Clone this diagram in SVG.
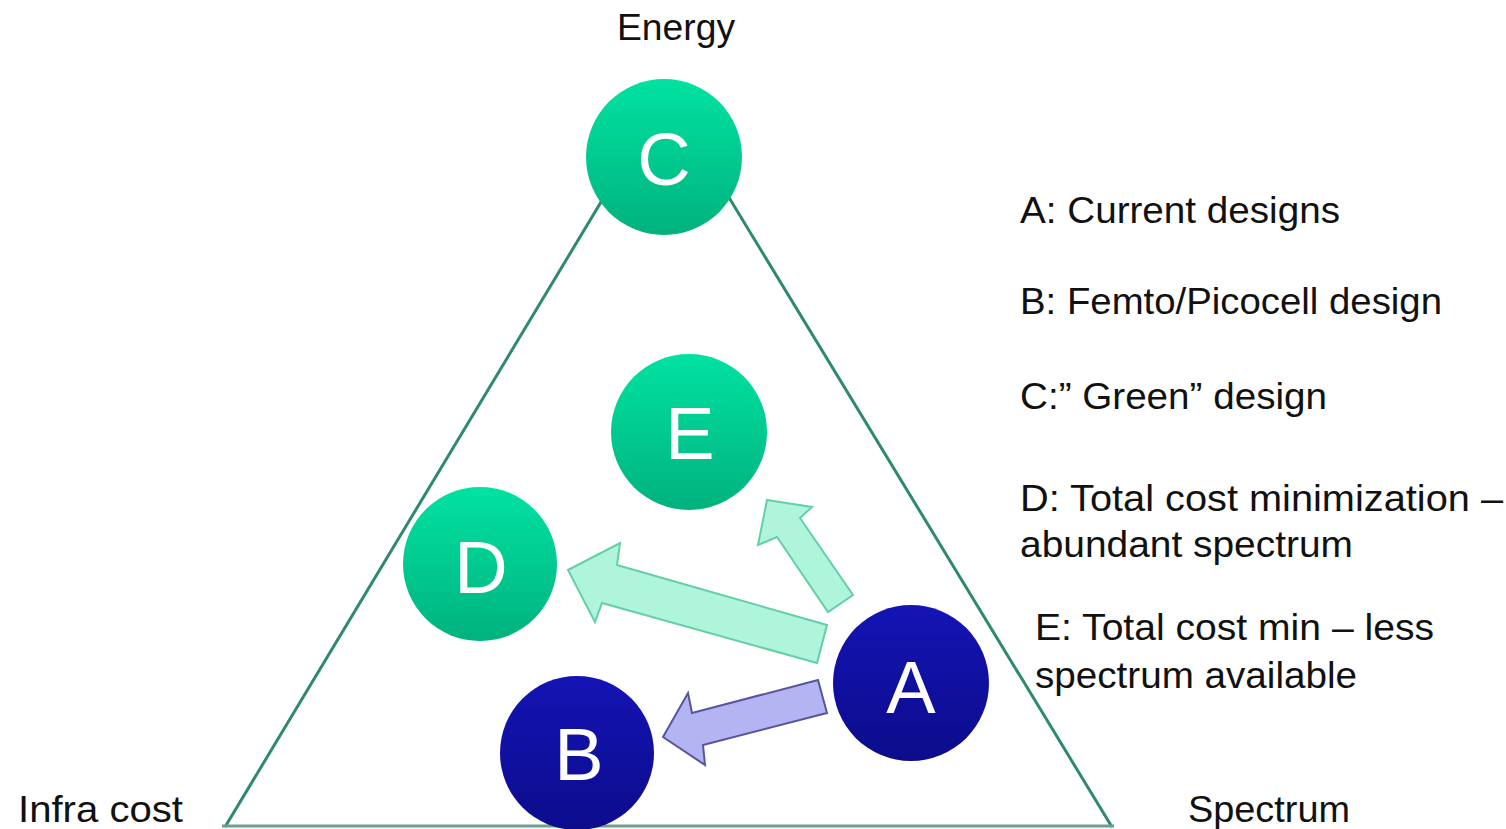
<svg xmlns="http://www.w3.org/2000/svg" width="1506" height="829" viewBox="0 0 1506 829">
<defs>
<linearGradient id="gGreen" x1="0" y1="0" x2="0" y2="1">
<stop offset="0" stop-color="#00e2a2"/>
<stop offset="1" stop-color="#00b27e"/>
</linearGradient>
<linearGradient id="gBlue" x1="0" y1="0" x2="0" y2="1">
<stop offset="0" stop-color="#1414b4"/>
<stop offset="1" stop-color="#0c0c8c"/>
</linearGradient>
<style>
.lbl{font-family:"Liberation Sans","DejaVu Sans",sans-serif;font-size:37px;fill:#111}
.ltr{font-family:"Liberation Sans","DejaVu Sans",sans-serif;font-size:74px;fill:#fff;text-anchor:middle}
.tri{fill:none;stroke:#2f8a6c;stroke-width:3}
.garr{fill:#aef5dc;stroke:#63cfa4;stroke-width:2;stroke-linejoin:miter}
.barr{fill:#b4b4f2;stroke:#55559e;stroke-width:2}
</style>
</defs>
<g id="triangle">
<polyline class="tri" points="225,827 666,94 1112,827"/>
<line x1="222" y1="826" x2="1114" y2="826" stroke="#6f9e8c" stroke-width="3"/>
</g>
<g id="connectors">
<polygon class="garr" points="568,570 620,543 617,565 827,625 817,663 602,603 595,622"/>
<polygon class="garr" points="767,500 812,507 800,518 853,595 828,612 777,537 758,545"/>
<polygon class="barr" points="663,737 688,693 692,713 818,680 827,713 703,745 705,765"/>
</g>
<g id="node-C"><circle cx="664" cy="157" r="78" fill="url(#gGreen)"/><text class="ltr" x="664" y="185">C</text></g>
<g id="node-E"><circle cx="689" cy="432" r="78" fill="url(#gGreen)"/><text class="ltr" x="690" y="459">E</text></g>
<g id="node-D"><circle cx="480" cy="564" r="77" fill="url(#gGreen)"/><text class="ltr" x="481" y="593">D</text></g>
<g id="node-A"><circle cx="911" cy="683" r="78" fill="url(#gBlue)"/><text class="ltr" x="911" y="713">A</text></g>
<g id="node-B"><circle cx="577" cy="753" r="77" fill="url(#gBlue)"/><text class="ltr" x="579" y="780">B</text></g>
<g id="axis-labels">
<text class="lbl" x="617" y="40" textLength="118" lengthAdjust="spacingAndGlyphs">Energy</text>
<text class="lbl" x="18" y="822" textLength="165" lengthAdjust="spacingAndGlyphs">Infra cost</text>
<text class="lbl" x="1188" y="822" textLength="162" lengthAdjust="spacingAndGlyphs">Spectrum</text>
</g>
<g id="legend">
<text class="lbl" x="1020" y="223" textLength="320" lengthAdjust="spacingAndGlyphs">A: Current designs</text>
<text class="lbl" x="1020" y="314" textLength="422" lengthAdjust="spacingAndGlyphs">B: Femto/Picocell design</text>
<text class="lbl" x="1020" y="409" textLength="307" lengthAdjust="spacingAndGlyphs">C:” Green” design</text>
<text class="lbl" x="1020" y="511" textLength="483" lengthAdjust="spacingAndGlyphs">D: Total cost minimization –</text>
<text class="lbl" x="1020" y="557" textLength="333" lengthAdjust="spacingAndGlyphs">abundant spectrum</text>
<text class="lbl" x="1035" y="640" textLength="399" lengthAdjust="spacingAndGlyphs">E: Total cost min – less</text>
<text class="lbl" x="1035" y="688" textLength="322" lengthAdjust="spacingAndGlyphs">spectrum available</text>
</g>
</svg>
